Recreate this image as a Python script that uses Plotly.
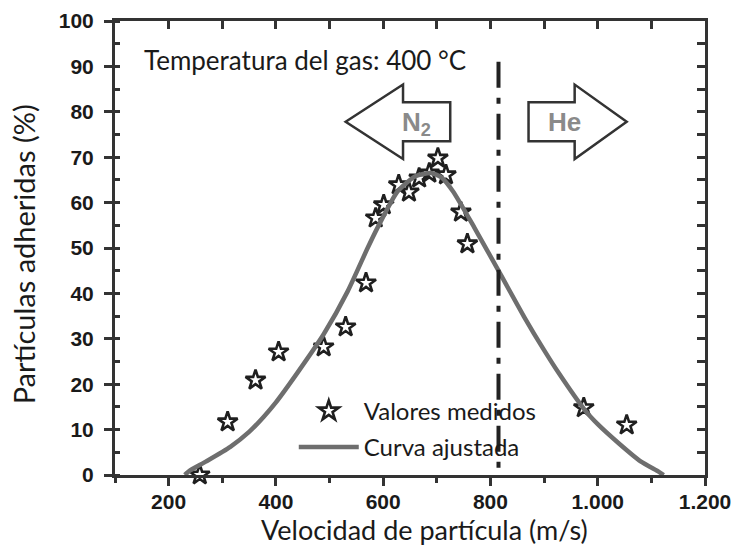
import plotly.graph_objects as go

# ---- data ----
measured_v = [258, 310, 362, 405, 489, 530, 568, 586, 601, 629, 648, 667, 686, 702, 717, 745, 757, 974, 1054]
measured_p = [0, 11.7, 20.9, 27.1, 28.2, 32.6, 42.3, 56.6, 59.5, 63.9, 62.3, 65.4, 66.5, 69.8, 66.1, 57.9, 50.9, 14.8, 11.0]

fit_v = [230, 240, 270, 315, 350, 377, 400, 440, 489, 534, 571, 590, 627, 660, 689, 708, 730, 770, 815, 863, 900, 927, 976, 1000, 1039, 1080, 1114, 1123]
fit_p = [0, 1, 3, 6.2, 9.5, 12.8, 16, 22.5, 31, 40.5, 50, 54.6, 62.5, 65.8, 66.5, 65.6, 62.5, 54.5, 45, 34.8, 27.5, 22.5, 14.3, 11.2, 7, 3, 0.7, 0]

x_tickvals = [200, 400, 600, 800, 1000, 1200]
x_ticktext = ["200", "400", "600", "800", "1.000", "1.200"]
x_minor = [100, 300, 500, 700, 900, 1100]
y_tickvals = [0, 10, 20, 30, 40, 50, 60, 70, 80, 90, 100]

boundary_v = 815      # dash-dot separator N2 / He
boundary_top = 91

# arrow outlines (data coordinates)
n2_arrow = [(530, 77.8), (637, 86.0), (637, 82.1), (725, 82.1), (725, 73.5), (637, 73.5), (637, 69.6)]
he_arrow = [(871, 82.1), (957, 82.1), (957, 86.0), (1054, 77.8), (957, 69.6), (957, 73.5), (871, 73.5)]

AX = "#333333"
TXT = "#1a1a1a"
HUM = "Lato"

fig = go.Figure()

fig.add_trace(go.Scatter(
    x=measured_v, y=measured_p, mode="markers", name="Valores medidos",
    marker=dict(symbol="star-open", size=15, color="#1f1f1f", line=dict(width=2.6, color="#1f1f1f")),
    cliponaxis=False, legendgroup="a",
))
fig.add_trace(go.Scatter(
    x=fit_v, y=fit_p, mode="lines", name="Curva ajustada",
    line=dict(color="#6e6e6e", width=4.5, shape="spline", smoothing=0.6),
    legendgroup="b",
))
# helper traces to activate mirrored axes
fig.add_trace(go.Scatter(x=[150], y=[-10], xaxis="x2", yaxis="y", mode="markers", marker=dict(opacity=0),
                         showlegend=False, hoverinfo="skip"))
fig.add_trace(go.Scatter(x=[150], y=[-10], xaxis="x", yaxis="y2", mode="markers", marker=dict(opacity=0),
                         showlegend=False, hoverinfo="skip"))

def path(pts):
    return "M " + " L ".join(f"{x},{y}" for x, y in pts) + " Z"

shapes = [
    dict(type="line", xref="x", yref="y", x0=boundary_v, x1=boundary_v, y0=boundary_top, y1=0,
         line=dict(color="#222222", width=4, dash="26px,10px,6px,10px"), layer="above"),
    dict(type="path", xref="x", yref="y", path=path(n2_arrow), line=dict(color=AX, width=2.5)),
    dict(type="path", xref="x", yref="y", path=path(he_arrow), line=dict(color=AX, width=2.5)),
]

annotations = [
    dict(text="Temperatura del gas: 400 °C", x=150, y=91.4, xref="x", yref="y", xanchor="left", yanchor="middle",
         showarrow=False, font=dict(family=HUM, size=26, color=TXT)),
    dict(text="N<sub>2</sub>", x=663, y=77.5, xref="x", yref="y", showarrow=False,
         xanchor="center", yanchor="middle",
         font=dict(family="Liberation Sans", size=26, color="#8a8a8a", weight="bold")),
    dict(text="He", x=938, y=77.8, xref="x", yref="y", showarrow=False,
         xanchor="center", yanchor="middle",
         font=dict(family="Liberation Sans", size=26, color="#8a8a8a", weight="bold")),
    dict(text="Velocidad de partícula (m/s)", x=0.525, y=-0.121, xref="paper", yref="paper",
         xanchor="center", yanchor="middle",
         showarrow=False, font=dict(family=HUM, size=27, color=TXT)),
    dict(text="Partículas adheridas (%)", x=-0.155, y=0.485, xref="paper", yref="paper", textangle=-90,
         xanchor="center", yanchor="middle",
         showarrow=False, font=dict(family=HUM, size=29, color=TXT)),
]

tickfont = dict(family="Liberation Sans", size=21, color=TXT, weight="bold")

fig.update_layout(
    width=733, height=546,
    margin=dict(l=115, r=28, t=21, b=71, autoexpand=False),
    paper_bgcolor="white", plot_bgcolor="white",
    shapes=shapes, annotations=annotations,
    showlegend=True,
    legend=dict(x=0.303, y=0.19, xanchor="left", yanchor="top", bgcolor="rgba(0,0,0,0)",
                font=dict(family=HUM, size=24, color=TXT), tracegroupgap=2, itemwidth=60),
    xaxis=dict(range=[100, 1200], domain=[0, 1], tickmode="array", tickvals=x_tickvals, ticktext=x_ticktext,
               ticks="outside", ticklen=8, tickwidth=2.5, tickcolor=AX, automargin=False, ticklabelstandoff=-2,
               showline=True, linewidth=3, linecolor=AX, showgrid=False, zeroline=False,
               tickfont=tickfont,
               minor=dict(tickmode="array", tickvals=x_minor, ticks="outside", ticklen=5, tickwidth=2.5, tickcolor=AX)),
    yaxis=dict(range=[0, 100], domain=[0, 1], tickmode="array", tickvals=y_tickvals, automargin=False,
               ticks="outside", ticklen=8, tickwidth=2.5, tickcolor=AX, ticklabelstandoff=6,
               showline=True, linewidth=3, linecolor=AX, showgrid=False, zeroline=False,
               tickfont=tickfont,
               minor=dict(dtick=5, tick0=0, ticks="inside", ticklen=5, tickwidth=2.5, tickcolor=AX)),
    xaxis2=dict(range=[100, 1200], overlaying="x", side="top", anchor="y", dtick=100, tick0=0,
                ticks="inside", ticklen=8, tickwidth=2.5, tickcolor=AX, showticklabels=False, automargin=False,
                showline=True, linewidth=3, linecolor=AX, showgrid=False, zeroline=False),
    yaxis2=dict(range=[0, 100], overlaying="y", side="right", anchor="x", dtick=5, tick0=0,
                ticks="inside", ticklen=8, tickwidth=2.5, tickcolor=AX, showticklabels=False, automargin=False,
                showline=True, linewidth=3, linecolor=AX, showgrid=False, zeroline=False),
)

fig.write_html("out.html")
